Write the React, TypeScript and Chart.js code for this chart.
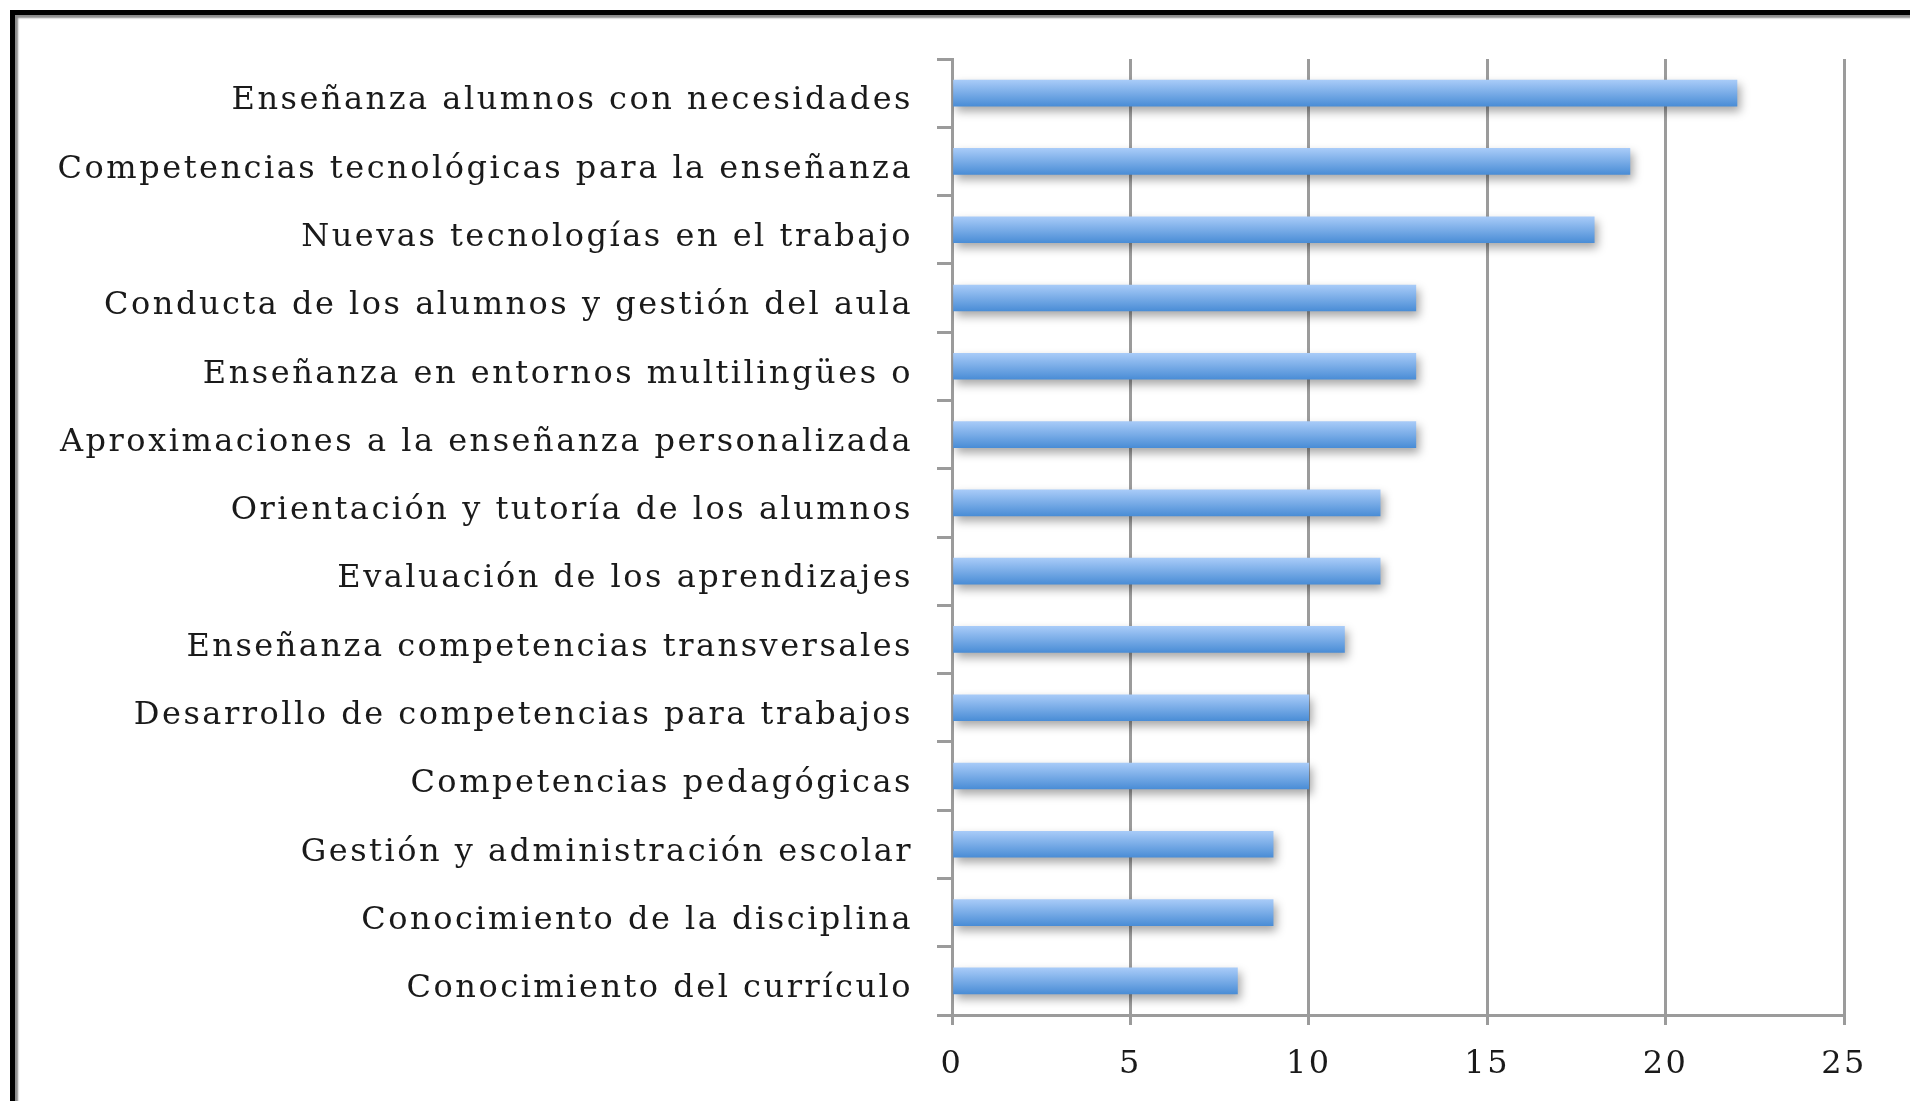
import React, { useEffect, useRef } from "react";
import { Chart, registerables } from "chart.js";

Chart.register(...registerables);

const categories = [
  "Enseñanza alumnos con necesidades",
  "Competencias tecnológicas para la enseñanza",
  "Nuevas tecnologías en el trabajo",
  "Conducta de los alumnos y gestión del aula",
  "Enseñanza en entornos multilingües o",
  "Aproximaciones a la enseñanza personalizada",
  "Orientación y tutoría de los alumnos",
  "Evaluación de los aprendizajes",
  "Enseñanza competencias transversales",
  "Desarrollo de competencias para trabajos",
  "Competencias pedagógicas",
  "Gestión y administración escolar",
  "Conocimiento de la disciplina",
  "Conocimiento del currículo",
];

const values = [22, 19, 18, 13, 13, 13, 12, 12, 11, 10, 10, 9, 9, 8];

const xTicks = [0, 5, 10, 15, 20, 25];

export default function App() {
  const ref = useRef<HTMLCanvasElement>(null);

  useEffect(() => {
    document.body.style.margin = "0";
    document.body.style.overflow = "hidden";
    const canvas = ref.current;
    if (!canvas) return;

    const fontFamily = "'DejaVu Serif', serif";
    const gridColor = "#9b9b9b";

    const spacingPlugin = {
      id: "letterSpacing",
      beforeUpdate(chart: any) {
        chart.ctx.letterSpacing = "2.5px";
      },
      beforeDraw(chart: any) {
        chart.ctx.letterSpacing = "2.5px";
      },
    };

    const shadowPlugin = {
      id: "barShadow",
      beforeDatasetsDraw(chart: any) {
        const c = chart.ctx;
        c.save();
        c.shadowColor = "rgba(0,0,0,0.35)";
        c.shadowBlur = 10;
        c.shadowOffsetX = 3;
        c.shadowOffsetY = 5;
      },
      afterDatasetsDraw(chart: any) {
        chart.ctx.restore();
      },
    };

    const chart = new Chart(canvas, {
      type: "bar",
      data: {
        labels: categories,
        datasets: [
          {
            data: values,
            barThickness: 26,
            borderWidth: 0,
            backgroundColor: (c: any) => {
              const ch = c.chart;
              const y = ch.scales && ch.scales.y;
              if (!y || c.dataIndex === undefined) return "#6fa5e6";
              const py = y.getPixelForValue(c.dataIndex);
              if (!isFinite(py)) return "#6fa5e6";
              const g = ch.ctx.createLinearGradient(0, py - 13, 0, py + 13);
              g.addColorStop(0, "#a8cbf8");
              g.addColorStop(1, "#4a8dd6");
              return g;
            },
          },
        ],
      },
      options: {
        indexAxis: "y",
        responsive: false,
        animation: false,
        layout: { padding: { top: 59, right: 66, left: 0, bottom: 0 } },
        plugins: {
          legend: { display: false },
          tooltip: { enabled: false },
        },
        scales: {
          x: {
            min: 0,
            max: 25,
            afterBuildTicks: (s: any) => {
              s.ticks = xTicks.map((v) => ({ value: v }));
            },
            afterFit: (s: any) => {
              s.height = 86;
            },
            ticks: {
              color: "#1a1a1a",
              padding: 20,
              font: { family: fontFamily, size: 32 },
            },
            grid: {
              color: gridColor,
              lineWidth: 3,
              tickLength: 10,
              drawOnChartArea: true,
            },
            border: { display: true, color: gridColor, width: 3 },
          },
          y: {
            afterFit: (s: any) => {
              s.width = 952;
            },
            ticks: {
              color: "#1a1a1a",
              padding: 24,
              labelOffset: 8,
              autoSkip: false,
              font: { family: fontFamily, size: 32 },
            },
            grid: {
              color: gridColor,
              lineWidth: 3,
              tickLength: 15,
              drawOnChartArea: false,
              offset: true,
            },
            border: { display: true, color: gridColor, width: 3 },
          },
        },
      },
      plugins: [spacingPlugin, shadowPlugin],
    } as any);

    return () => chart.destroy();
  }, []);

  return (
    <div
      style={{
        position: "absolute",
        left: 0,
        top: 0,
        width: 1910,
        height: 1101,
        overflow: "hidden",
        background: "#fff",
      }}
    >
      <div
        style={{
          position: "absolute",
          left: 10,
          top: 10,
          width: 1950,
          height: 1087,
          borderLeft: "5px solid #000",
          borderTop: "5px solid #000",
          borderBottom: "2px solid #ddd",
          boxShadow: "inset 3px 3px 2px #8a8a8a",
        }}
      />
      <canvas
        ref={ref}
        width={1910}
        height={1101}
        style={{ position: "absolute", left: 0, top: 0, width: 1910, height: 1101 }}
      />
    </div>
  );
}
